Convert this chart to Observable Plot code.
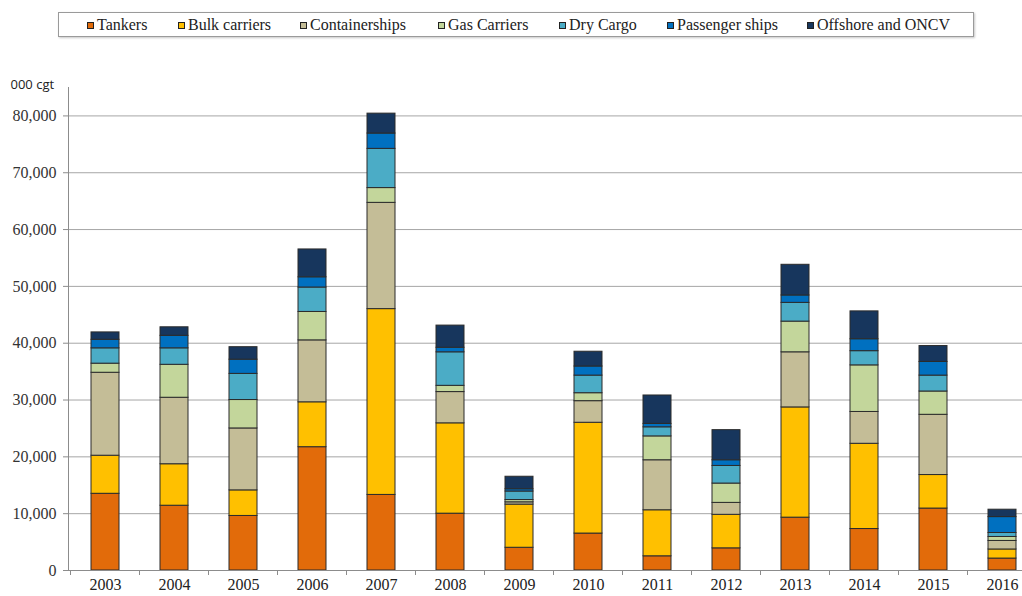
<!DOCTYPE html>
<html><head><meta charset="utf-8">
<script src="https://cdn.jsdelivr.net/npm/d3@7"></script>
<script src="https://cdn.jsdelivr.net/npm/@observablehq/plot@0.6"></script>
<style>
html,body{margin:0;padding:0;background:#fff;overflow:hidden;}
#wrap{position:relative;width:1022px;height:596px;overflow:hidden;}
#legend{position:absolute;left:58px;top:12px;width:914px;height:23px;border:1px solid #9a9a9a;box-shadow:1px 1px 2px #c8c8c8;font-family:"Liberation Serif",serif;font-size:16px;color:#222;}
.item{position:absolute;top:0;line-height:23px;white-space:nowrap;}
.sw{display:inline-block;width:5px;height:5px;border:1px solid #222;margin-right:3px;vertical-align:middle;position:relative;top:-1px}
#chart{position:absolute;left:0;top:45px;}
</style></head><body><div id="wrap"><div id="legend"></div><div id="chart"></div></div>
<script>
const years = ["2003","2004","2005","2006","2007","2008","2009","2010","2011","2012","2013","2014","2015","2016"];
const series = ["Tankers","Bulk carriers","Containerships","Gas Carriers","Dry Cargo","Passenger ships","Offshore and ONCV"];
const colors = ["#e26b0a","#ffc000","#c4bd97","#c3d69b","#4bacc6","#0070c0","#17365d"];
const tankers   = [13500,11400,9600,21700,13300,10000,4000,6500,2500,3900,9300,7300,10900,2100];
const bulk      = [6700,7300,4500,7900,32700,15900,7600,19500,8100,5900,19400,15000,5900,1600];
const container = [14600,11700,10900,10900,18700,5500,400,3800,8800,2100,9700,5600,10600,1500];
const gas       = [1600,5800,5000,5000,2600,1100,400,1400,4200,3400,5400,8200,4100,700];
const dry       = [2700,2900,4600,4300,6900,5900,1500,3100,1600,3100,3300,2500,2800,700];
const passenger = [1500,2200,2500,1800,2700,800,400,1600,600,1000,1300,2100,2400,2800];
const offshore  = [1300,1500,2200,4900,3500,3900,2200,2600,5000,5300,5400,4900,2800,1300];
const yTicks = [0,10000,20000,30000,40000,50000,60000,70000,80000];
const yUnit = "000 cgt";

const values = [tankers,bulk,container,gas,dry,passenger,offshore];
const data = series.flatMap((s,i)=>years.map((y,j)=>({year:y,series:s,value:values[i][j]})));

const legendLeft = [28,119,241,379,500,608,748];
const lg = document.getElementById("legend");
series.forEach((s,i)=>{
  const it = document.createElement("span");
  it.className="item"; it.style.left=legendLeft[i]+"px";
  it.innerHTML = `<span class="sw" style="background:${colors[i]}"></span>${s}`;
  lg.appendChild(it);
});

function boundaryTicks(index, scales, values, dims) {
  const x = scales.x, y = scales.y;
  const step = x(years[1]) - x(years[0]);
  const bw = typeof x.bandwidth === "function" ? x.bandwidth() : x.bandwidth;
  const y0 = y(0);
  const g = d3.create("svg:g").attr("stroke","#8c8c8c").attr("stroke-width",1);
  const bounds = years.map(yr => x(yr) - (step - bw)/2);
  bounds.push(bounds[bounds.length-1] + step);
  bounds.filter(b => b > dims.marginLeft + 1).forEach(b => g.append("line").attr("x1",b).attr("x2",b).attr("y1",y0).attr("y2",y0+5));
  return g.node();
}

const plot = Plot.plot({
  width:1022, height:551, marginLeft:68, marginRight:0, marginTop:42, marginBottom:26,
  style:{fontFamily:"'Liberation Serif',serif", fontSize:"16px", color:"#333", background:"transparent", overflow:"hidden"},
  x:{domain:years, range:[68,1039], paddingInner:0.6, paddingOuter:0.3, label:null, axis:null},
  y:{domain:[0,85000], label:null, axis:null},
  color:{domain:series, range:colors},
  marks:[
    Plot.gridY(yTicks,{stroke:"#a6a6a6", strokeOpacity:1}),
    Plot.barY(data,{x:"year", y:"value", fill:"series", stroke:"#2b2b2b", strokeWidth:1}),
    Plot.frame({anchor:"left", stroke:"#8c8c8c"}),
    Plot.ruleY([0],{stroke:"#8c8c8c"}),
    Plot.axisY(yTicks,{tickFormat:d3.format(","), tickSize:5, tickPadding:7, stroke:"#8c8c8c", fill:"#333", label:null}),
    Plot.axisX({tickSize:0, tickPadding:8, label:null, fill:"#222"}),
    boundaryTicks,
    Plot.text([yUnit],{frameAnchor:"top-left", dx:-58, dy:-8, textAnchor:"start", fontFamily:"'Open Sans',sans-serif", fontSize:13, fill:"#222"})
  ]
});
document.getElementById("chart").appendChild(plot);
</script></body></html>
